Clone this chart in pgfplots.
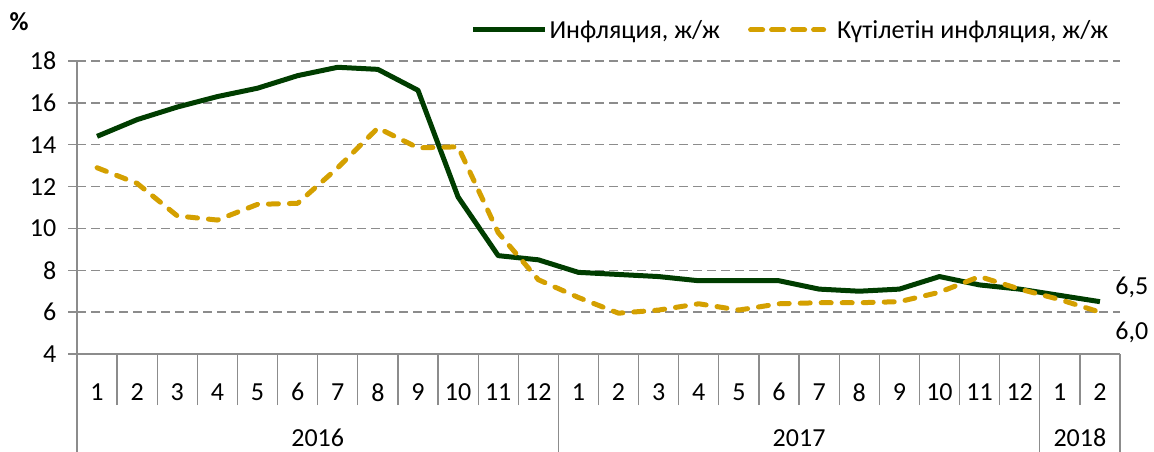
\documentclass[border=0pt]{standalone}
\usepackage{pgfplots}
\pgfplotsset{compat=1.18}
\usepackage{fontspec}
\setmainfont{Carlito}
\definecolor{infl}{RGB}{0,61,0}
\definecolor{expc}{RGB}{212,160,0}
\definecolor{axgray}{RGB}{140,140,140}
\newcommand{\cf}{\fontsize{26bp}{30bp}\selectfont}
\pgfplotsset{
  solidleg/.style={legend image code/.code={\draw[##1] (0bp,0bp) -- (72bp,0bp);}},
  dashleg/.style={legend image code/.code={\draw[##1] (0bp,0bp) -- (54bp,0bp); \path (-2bp,0bp) -- (80bp,0bp);}},
}
\pgfplotstableread{
x infl expc
0 14.4 12.9
1 15.2 12.15
2 15.8 10.6
3 16.3 10.4
4 16.7 11.15
5 17.3 11.2
6 17.7 12.9
7 17.6 14.8
8 16.6 13.85
9 11.5 13.9
10 8.7 9.8
11 8.5 7.55
12 7.9 6.7
13 7.8 5.95
14 7.7 6.1
15 7.5 6.4
16 7.5 6.1
17 7.5 6.4
18 7.1 6.45
19 7.0 6.45
20 7.1 6.5
21 7.7 6.95
22 7.3 7.7
23 7.1 7.1
24 6.8 6.6
25 6.5 6.0
}\datatable
\begin{document}
\begin{tikzpicture}
\useasboundingbox (0bp,0bp) rectangle (1154bp,452bp);
\begin{axis}[
  at={(77bp,98bp)}, anchor=south west,
  scale only axis, width=1043bp, height=293bp,
  xmin=-0.5, xmax=25.5, ymin=4, ymax=18,
  ytick={4,6,...,18},
  xtick={-0.5,0.5,...,25.5},
  x tick label as interval,
  xticklabels={1,2,3,4,5,6,7,8,9,10,11,12,1,2,3,4,5,6,7,8,9,10,11,12,1,2},
  axis x line*=bottom, axis y line*=left,
  axis line style={axgray, line width=1.3bp, -},
  ymajorgrids,
  grid style={axgray, line width=1.3bp, dash pattern=on 9bp off 5bp},
  tick align=outside,
  ytick style={axgray, line width=1.3bp, /pgfplots/major tick length=9bp},
  xtick style={axgray, line width=1.3bp, /pgfplots/major tick length=51bp},
  tick label style={font=\cf},
  yticklabel style={xshift=-13bp},
  xticklabel style={anchor=center, yshift=-34bp},
  /pgf/number format/assume math mode=true,
  clip=false,
  legend columns=2,
  legend style={draw=none, fill=none, font=\cf,
    at={(axis description cs:0.684,1.106)}, anchor=center,
    /tikz/every even column/.append style={column sep=26bp}},
]
\addplot[infl, line width=5bp, line join=round, solidleg] table[x=x,y=infl]{\datatable};
\addlegendentry{Инфляция, ж/ж}
\addplot[expc, line width=5bp, line cap=round, line join=round, dash pattern=on 10bp off 11bp, dashleg] table[x=x,y=expc]{\datatable};
\addlegendentry{Күтілетін инфляция, ж/ж}
\pgfplotsinvokeforeach{-0.5,11.5,23.5,25.5}{
  \draw[axgray, line width=1.3bp] (axis cs:#1,4) -- ++(0bp,-98bp);
}
\node[font=\cf] at (axis cs:5.5,4) [yshift=-84bp] {2016};
\node[font=\cf] at (axis cs:17.5,4) [yshift=-84bp] {2017};
\node[font=\cf] at (axis cs:24.5,4) [yshift=-84bp] {2018};
\node[font=\cf, anchor=west] at (axis cs:25,6.5) [xshift=12bp, yshift=14bp] {6,5};
\node[font=\cf, anchor=west] at (axis cs:25,6.0) [xshift=12bp, yshift=-20bp] {6,0};
\end{axis}
\node[font=\cf\bfseries] at (19bp,430bp) {\%};
\end{tikzpicture}
\end{document}
